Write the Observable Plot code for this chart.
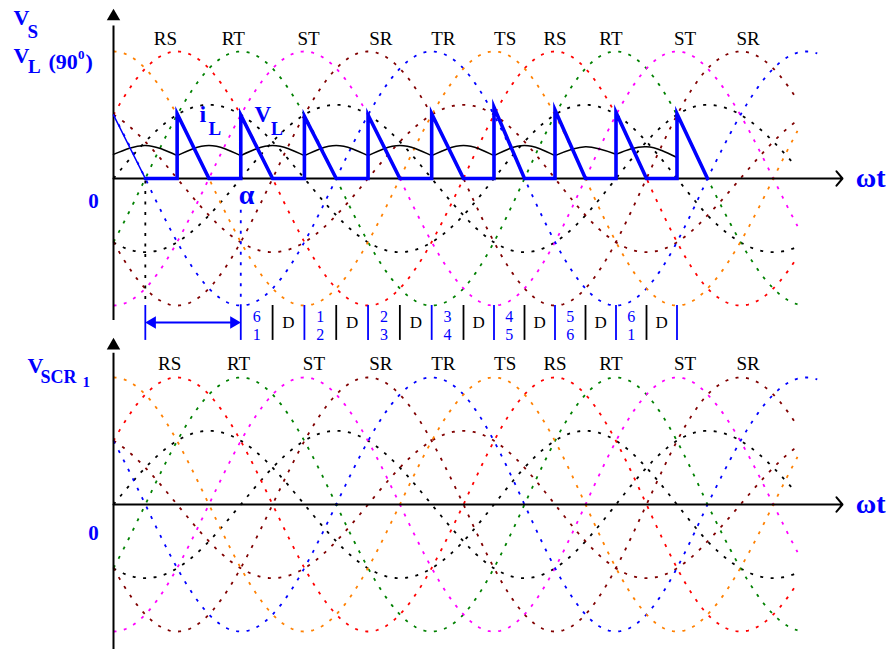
<!DOCTYPE html>
<html><head><meta charset="utf-8">
<script src="https://cdn.jsdelivr.net/npm/d3@7"></script>
<script src="https://cdn.jsdelivr.net/npm/@observablehq/plot@0.6"></script>
<style>html,body{margin:0;padding:0;background:#fff;overflow:hidden}svg{display:block}</style>
</head><body><div id="chart"></div>
<script>
// ---------------- data ----------------
// line-to-line voltages  v = A·sin(ωt + φ)
const lineNames  = ["RS","RT","ST","SR","TR","TS"];
const lineColors = ["#ff0000","#008000","#ff00ff","#800000","#0000ff","#ff8000"];
const linePhase  = [30,-30,-90,-150,150,90];
const lineEnd    = [652,652,652,652,670,652];
const lineAmp    = 1;
// phase voltages
const phaseNames  = ["R","S","T"];
const phaseColors = ["#000000","#000000","#800000"];
const phasePhase  = [0,-120,120];
const phaseEnd    = [652,650,652];
const phaseAmp    = 0.58;
// peak labels (ωt, degrees)
const peakLabels = ["RS","RT","ST","SR","TR","TS","RS","RT","ST","SR"];
const topLabelAt = [49,113,184,252,311,371,420,475,548,607];
const botLabelAt = [53,118,189,252,311,371,420,475,548,607];
// load voltage V_L (α = 90°)
const firing   = [60,120,180,240,300,360,420,480,540];
const firingV  = [0.51,0.50,0.49,0.50,0.51,0.56,0.54,0.52,0.51];
const conduct  = 30;
const vlStart  = [{t:0,v:0.5},{t:30,v:0}];
// load current i_L
const iLcuspAt = [0,60,120,180,240,300,360,420,480,540];
const iLcusp   = [0.19,0.18,0.18,0.18,0.18,0.18,0.18,0.18,0.19,0.165];
const iLpeak   = [0.26,0.26,0.26,0.26,0.26,0.26,0.26,0.25,0.25];
// conduction table
const scrBars   = [30,120,180,240,300,360,420,480,540];
const diodeBars = [150,210,270,330,390,450,510];
const scrPairs  = [["6","1"],["1","2"],["2","3"],["3","4"],["4","5"],["5","6"],["6","1"]];

// ---------------- helpers ----------------
const serif = "'Liberation Serif','Times New Roman',serif";
const BLUE = "#0000ff";
const xScale = {type:"linear", domain:[0,330,570,693], range:[113,463,707,842], axis:null};
const dotted = {strokeWidth:1.8, strokeDasharray:"3,7.5", strokeLinecap:"butt"};
const wave = (amp, phi, end) => d3.range(0, end + 0.5, 1).map(t => ({t, v: amp * Math.sin((t + phi) * Math.PI / 180)}));
const note = (s, t, v, o) => Plot.text([s], {x:t, y:v, text:d=>d, fontFamily:serif, lineAnchor:"middle", ...o});
const bold = (size, anchor="start", fill=BLUE) => ({fontSize:size, fontWeight:"bold", fill, textAnchor:anchor});

function curves() {
  const m = [];
  phaseNames.forEach((n,i) => m.push(Plot.line(wave(phaseAmp, phasePhase[i], phaseEnd[i]), {x:"t", y:"v", stroke:phaseColors[i], ...dotted})));
  lineNames.forEach((n,i) => m.push(Plot.line(wave(lineAmp, linePhase[i], lineEnd[i]), {x:"t", y:"v", stroke:lineColors[i], ...dotted})));
  return m;
}
function axes(yBottom, yTop, yHead) {
  return [
    Plot.ruleX([0], {y1:yBottom, y2:yTop, stroke:"#000", strokeWidth:2}),
    Plot.dot([0], {x:d=>d, y:yHead, symbol:"triangle", r:5, fill:"#000", stroke:null}),
    Plot.arrow([{x1:0, x2:693, y:0}], {x1:"x1", x2:"x2", y1:"y", y2:"y", stroke:"#000", strokeWidth:2, headLength:7, headAngle:100}),
    note("ωt", 705, 0, bold(28))
  ];
}
function peakText(at, v) {
  return Plot.text(peakLabels.map((s,i)=>({s, t:at[i]})), {x:"t", y:()=>v, text:"s", fontFamily:serif, fontSize:19, fill:"#000"});
}

// V_L points
const vl = [{t:conduct, v:0}];
firing.forEach((f,i) => { vl.push({t:f, v:0}, {t:f, v:firingV[i]}, {t:f + conduct, v:0}); });
// i_L arcs
const iL = [];
for (let i = 0; i < iLpeak.length; i++) {
  iL.push({seg:i, t:iLcuspAt[i], v:iLcusp[i]}, {seg:i, t:(iLcuspAt[i] + iLcuspAt[i+1]) / 2, v:iLpeak[i]}, {seg:i, t:iLcuspAt[i+1], v:iLcusp[i+1]});
}

// ---------------- top panel ----------------
const topChart = Plot.plot({
  width:886, height:345, style:{background:"transparent", overflow:"visible"},
  x:xScale, y:{domain:[-1,1], range:[305,51], axis:null},
  marks:[
    ...curves(),
    Plot.ruleX([30], {y1:-0.02, y2:-1, stroke:"#000", ...dotted}),
    Plot.ruleX([120], {y1:-0.25, y2:-1, stroke:BLUE, ...dotted}),
    ...axes(-1.118, 1.2, 1.276),
    Plot.line(iL, {x:"t", y:"v", z:"seg", curve:"natural", stroke:"#000", strokeWidth:1.6}),
    Plot.line(vlStart, {x:"t", y:"v", stroke:BLUE, strokeWidth:1.6}),
    Plot.line(vl, {x:"t", y:"v", stroke:BLUE, strokeWidth:3.6, strokeLinejoin:"miter", strokeMiterlimit:10}),
    peakText(topLabelAt, 1.102),
    // conduction table
    Plot.ruleX(scrBars, {y1:-1.0, y2:-1.275, stroke:BLUE, strokeWidth:1.8}),
    Plot.ruleX(diodeBars, {y1:-1.0, y2:-1.275, stroke:"#000", strokeWidth:1.8}),
    Plot.text(scrPairs, {x:(d,i)=>scrBars[i+1] + 15, y:()=>-1.087, text:d=>d[0], fontFamily:serif, fontSize:16, fill:BLUE}),
    Plot.text(scrPairs, {x:(d,i)=>scrBars[i+1] + 15, y:()=>-1.230, text:d=>d[1], fontFamily:serif, fontSize:16, fill:BLUE}),
    Plot.text(diodeBars, {x:d=>d + 15, y:()=>-1.138, text:()=>"D", fontFamily:serif, fontSize:17, fill:"#000"}),
    Plot.ruleY([-1.134], {x1:30, x2:120, stroke:BLUE, strokeWidth:2, insetLeft:8, insetRight:8}),
    Plot.dot([30], {x:d=>d, y:-1.134, symbol:"triangle", rotate:-90, r:4.6, dx:7, fill:BLUE, stroke:null}),
    Plot.dot([120], {x:d=>d, y:-1.134, symbol:"triangle", rotate:90, r:4.6, dx:-7, fill:BLUE, stroke:null}),
    // annotations
    note("V", -94.3, 1.264, bold(22)),
    note("S", -81.1, 1.154, bold(19)),
    note("V", -94.3, 0.965, bold(22)),
    note("L", -80.6, 0.878, bold(19)),
    note("(90", -61.3, 0.921, bold(22)),
    note("0", -33.5, 0.975, bold(13)),
    note(")", -26.4, 0.921, bold(22)),
    note("0", -18.9, -0.181, bold(21, "middle")),
    note("i", 81.1, 0.504, bold(24)),
    note("L", 89.6, 0.394, bold(19)),
    note("V", 132.9, 0.504, bold(23)),
    note("L", 148.5, 0.39, bold(18)),
    note("α", 125.4, -0.134, bold(28, "middle"))
  ]
});

// ---------------- bottom panel ----------------
const bottomChart = Plot.plot({
  width:886, height:304, style:{background:"transparent", overflow:"visible"},
  x:xScale, y:{domain:[-1,1], range:[286,32], axis:null},
  marks:[
    ...curves(),
    ...axes(-1.142, 1.19, 1.252),
    peakText(botLabelAt, 1.11),
    note("V", -81.1, 1.091, bold(22)),
    note("SCR", -68.8, 1.0, bold(18)),
    note("1", -29.2, 0.961, bold(15)),
    note("0", -18.9, -0.228, bold(21, "middle"))
  ]
});

document.getElementById("chart").append(topChart, bottomChart);
</script>
</body></html>
